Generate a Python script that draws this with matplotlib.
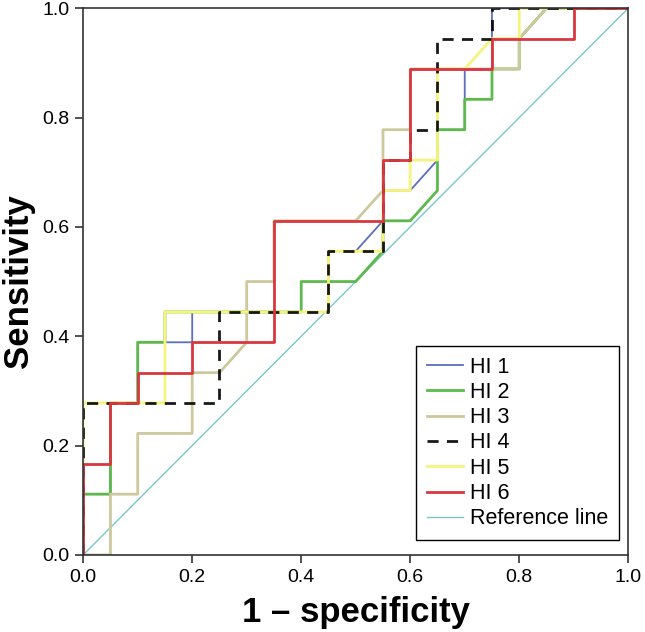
import matplotlib
matplotlib.use("Agg")
import numpy as np
from matplotlib import pyplot as plt

plt.rcParams['font.family'] = ['Liberation Sans', 'DejaVu Sans']

# ROC vertices, counted in false positives (of 20) and true positives (of 18)
n_neg = 20
n_pos = 18

hi1_fp = [0, 0, 1, 1, 2, 2, 4, 4, 9, 9, 10, 11, 11, 12, 13, 13, 14, 14, 15, 15, 15, 20]
hi1_tp = [0, 2, 2, 5, 5, 7, 7, 8, 8, 10, 10, 11, 12, 12, 13, 14, 14, 16, 16, 17, 18, 18]

hi2_fp = [0, 0, 1, 1, 2, 2, 3, 3, 8, 8, 10, 11, 11, 12, 13, 13, 14, 14, 15, 15, 16, 16, 17, 20]
hi2_tp = [0, 2, 2, 5, 5, 7, 7, 8, 8, 9, 9, 10, 11, 11, 12, 14, 14, 15, 15, 16, 16, 17, 18, 18]

hi3_fp = [0, 1, 1, 2, 2, 4, 4, 5, 6, 6, 7, 7, 10, 11, 11, 12, 12, 16, 16, 17, 20]
hi3_tp = [0, 0, 2, 2, 4, 4, 6, 6, 7, 9, 9, 11, 11, 12, 14, 14, 16, 16, 17, 18, 18]

hi4_fp = [0, 0, 5, 5, 9, 9, 11, 11, 12, 12, 13, 13, 15, 15, 20]
hi4_tp = [0, 5, 5, 8, 8, 10, 10, 13, 13, 14, 14, 17, 17, 18, 18]

hi5_fp = [0, 0, 3, 3, 9, 9, 11, 11, 12, 12, 13, 13, 14, 15, 16, 16, 20]
hi5_tp = [0, 5, 5, 8, 8, 10, 10, 12, 12, 13, 13, 16, 16, 17, 17, 18, 18]

hi6_fp = [0, 0, 1, 1, 2, 2, 4, 4, 7, 7, 11, 11, 12, 12, 15, 15, 18, 18, 20]
hi6_tp = [0, 3, 3, 5, 5, 6, 6, 7, 7, 11, 11, 13, 13, 16, 16, 17, 17, 18, 18]

fig = plt.figure(figsize=(6.45, 6.32), dpi=100)
ax = fig.add_axes([0.129, 0.122, 0.845, 0.865])

def rate(v, n):
    return np.array(v) / n

# Reference line first, then the curves
ref, = ax.plot([0, 1], [0, 1], color="#7cc6c9", lw=1.0)
l1, = ax.plot(rate(hi1_fp, n_neg), rate(hi1_tp, n_pos), color="#5b6fbe", lw=1.3)
l2, = ax.plot(rate(hi2_fp, n_neg), rate(hi2_tp, n_pos), color="#5db94b", lw=2.0)
l3, = ax.plot(rate(hi3_fp, n_neg), rate(hi3_tp, n_pos), color="#cdc89e", lw=2.0)
l5, = ax.plot(rate(hi5_fp, n_neg), rate(hi5_tp, n_pos), color="#f6f47c", lw=2.0)
l4, = ax.plot(rate(hi4_fp, n_neg), rate(hi4_tp, n_pos), color="black", lw=2.0,
              ls=(0, (4, 3)), alpha=0.9)
l6, = ax.plot(rate(hi6_fp, n_neg), rate(hi6_tp, n_pos), color="#d8373f", lw=2.0)

ax.set_xlim(0, 1)
ax.set_ylim(0, 1)
ticks = [0, 0.2, 0.4, 0.6, 0.8, 1.0]
ax.set_xticks(ticks)
ax.set_yticks(ticks)
ax.set_xticklabels(["%.1f" % t for t in ticks], fontsize=14)
ax.set_yticklabels(["%.1f" % t for t in ticks], fontsize=14)
ax.tick_params(direction="out", length=6, width=1.2, color="#333333", pad=4)
for s in ax.spines.values():
    s.set_linewidth(1.2)
    s.set_color("#333333")

ax.set_xlabel("1 \u2013 specificity", fontsize=25, fontweight="bold", labelpad=7)
ax.set_ylabel("Sensitivity", fontsize=25, fontweight="bold", labelpad=5)

leg = ax.legend([l1, l2, l3, l4, l5, l6, ref],
                ["HI 1", "HI 2", "HI 3", "HI 4", "HI 5", "HI 6", "Reference line"],
                loc="lower right", bbox_to_anchor=(0.983, 0.027), borderaxespad=0,
                fontsize=15.5, fancybox=False, framealpha=1, edgecolor="black",
                handlelength=1.7, handletextpad=0.3, labelspacing=0.2, borderpad=0.5)
leg.get_frame().set_linewidth(1.0)

fig.savefig("out.png", dpi=100)
